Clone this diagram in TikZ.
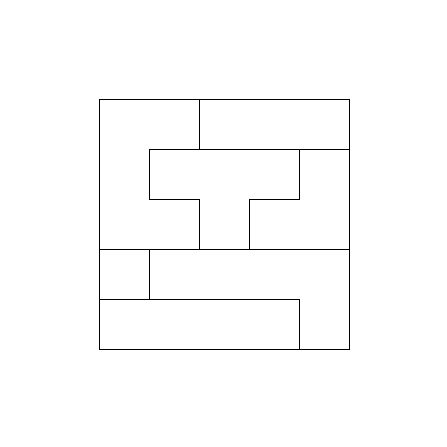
\documentclass[tikz,border=0pt]{standalone}
\usepackage{tikz}
\tikzset{
    piece/.style={
        draw=black,            % borde negro
        line width=0.5pt,      % trazo fino
        line join=miter
    }
}
\begin{document}
\begin{tikzpicture}[x=1cm,y=1cm]
    \useasboundingbox (-1.98,-1.96) rectangle (6.96,6.98);
    % pieza en forma de C
    \draw[piece] (0,5) -- (2,5) -- (2,4) -- (1,4) -- (1,3) -- (2,3) -- (2,2) -- (0,2) -- cycle;
    % barra superior
    \draw[piece] (2,5) -- (5,5) -- (5,4) -- (2,4) -- cycle;
    % pieza en T
    \draw[piece] (1,4) -- (4,4) -- (4,3) -- (3,3) -- (3,2) -- (2,2) -- (2,3) -- (1,3) -- cycle;
    % pieza en L
    \draw[piece] (4,4) -- (5,4) -- (5,2) -- (3,2) -- (3,3) -- (4,3) -- cycle;
    % cuadrado pequeño
    \draw[piece] (0,2) -- (1,2) -- (1,1) -- (0,1) -- cycle;
    % pieza en J
    \draw[piece] (1,2) -- (5,2) -- (5,0) -- (4,0) -- (4,1) -- (1,1) -- cycle;
    % barra inferior
    \draw[piece] (0,1) -- (4,1) -- (4,0) -- (0,0) -- cycle;
\end{tikzpicture}
\end{document}
